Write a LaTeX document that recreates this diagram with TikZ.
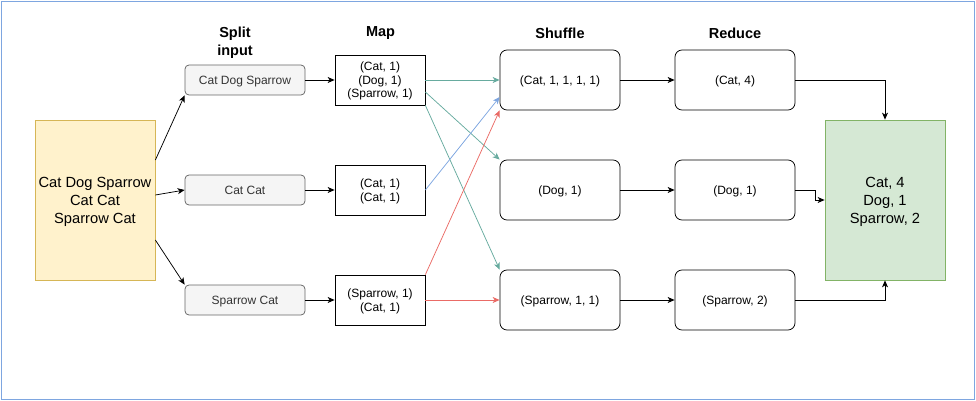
\documentclass[tikz,border=0pt]{standalone}
\usepackage{fontspec}
\setmainfont{Liberation Sans}
\usetikzlibrary{arrows.meta}
\definecolor{inputfill}{RGB}{255,242,204}
\definecolor{inputline}{RGB}{214,182,86}
\definecolor{splitfill}{RGB}{245,245,245}
\definecolor{splitline}{RGB}{102,102,102}
\definecolor{splittext}{RGB}{51,51,51}
\definecolor{outfill}{RGB}{213,232,212}
\definecolor{outline}{RGB}{130,179,102}
\definecolor{frame}{RGB}{126,166,224}
\definecolor{G}{RGB}{103,171,159}
\definecolor{B}{RGB}{126,166,224}
\definecolor{R}{RGB}{234,107,102}
\newcommand{\smalltext}{\fontsize{12}{13.5}\selectfont}
\newcommand{\bigtext}{\fontsize{14.7}{18}\selectfont}
\tikzset{
  bigbox/.style={draw, line width=0.75pt, minimum width=120pt, minimum height=160pt, align=center, font=\bigtext, inner sep=0pt, text depth=0pt},
  splitbox/.style={draw=splitline, fill=splitfill, text=splittext, rounded corners=4pt, line width=0.75pt, minimum width=120pt, minimum height=30pt, font=\smalltext, inner sep=0pt, text depth=0pt},
  mapbox/.style={draw, line width=0.75pt, minimum width=90pt, minimum height=50pt, align=center, font=\smalltext, inner sep=0pt, text depth=0pt},
  kvbox/.style={draw, rounded corners=7pt, line width=0.75pt, minimum width=120pt, minimum height=60pt, font=\smalltext, inner sep=0pt, text depth=0pt},
  header/.style={font=\fontsize{14.5}{17.7}\selectfont\bfseries, align=center},
  flow/.style={line width=0.75pt, -{Stealth[length=7pt, width=6pt, inset=2pt]}},
}
\begin{document}
\begin{tikzpicture}[x=1pt, y=-1pt]
\useasboundingbox (0,0) rectangle (976,401);
\draw[frame, line width=0.9pt] (1,1) rectangle (974.5,399.5);
% headers
\node[header] (hsplit) at (235,43) {Split\\input};
\node[header] (hmap) at (380.5,33) {Map};
\node[header] (hshuffle) at (560,33) {Shuffle};
\node[header] (hreduce) at (735,33) {Reduce};
% input and output
\node[bigbox, draw=inputline, fill=inputfill] (input) at (95,200) {Cat Dog Sparrow\\Cat Cat\\Sparrow Cat};
\node[bigbox, draw=outline, fill=outfill] (output) at (885,200) {Cat, 4\\Dog, 1\\Sparrow, 2};
% split
\node[splitbox] (split1) at (245,80) {Cat Dog Sparrow};
\node[splitbox] (split2) at (245,190) {Cat Cat};
\node[splitbox] (split3) at (245,300) {Sparrow Cat};
% map
\node[mapbox] (map1) at (380,80) {(Cat, 1)\\(Dog, 1)\\(Sparrow, 1)};
\node[mapbox] (map2) at (380,190) {(Cat, 1)\\(Cat, 1)};
\node[mapbox] (map3) at (380,300) {(Sparrow, 1)\\(Cat, 1)};
% shuffle
\node[kvbox] (shuf1) at (560,80) {(Cat, 1, 1, 1, 1)};
\node[kvbox] (shuf2) at (560,190) {(Dog, 1)};
\node[kvbox] (shuf3) at (560,300) {(Sparrow, 1, 1)};
% reduce
\node[kvbox] (red1) at (735,80) {(Cat, 4)};
\node[kvbox] (red2) at (735,190) {(Dog, 1)};
\node[kvbox] (red3) at (735,300) {(Sparrow, 2)};
% input to split
\draw[flow] (input.east |- 0,160) -- (split1.south west);
\draw[flow] (input.east |- 0,195) -- (split2.west);
\draw[flow] (input.east |- 0,240) -- (split3.north west);
\foreach \i in {1,2,3}{
  \draw[flow] (split\i) -- (map\i);
  \draw[flow] (shuf\i) -- (red\i);
}
% map to shuffle
\draw[flow, G] (map1.east) -- (shuf1.west);
\draw[flow, G] (map1.east |- 0,92) -- (shuf2.north west);
\draw[flow, G] (map1.south east) -- (shuf3.north west);
\draw[flow, B] (map2.east) -- (shuf1.west |- 0,97);
\draw[flow, R] (map3.north east) -- (shuf1.south west);
\draw[flow, R] (map3.east) -- (shuf3.west);
% reduce to output
\draw[flow] (red1.east) -| (output.north);
\draw[flow] (red2.east) -- ++(20,0) |- (output.west);
\draw[flow] (red3.east) -| (output.south);
\end{tikzpicture}
\end{document}
